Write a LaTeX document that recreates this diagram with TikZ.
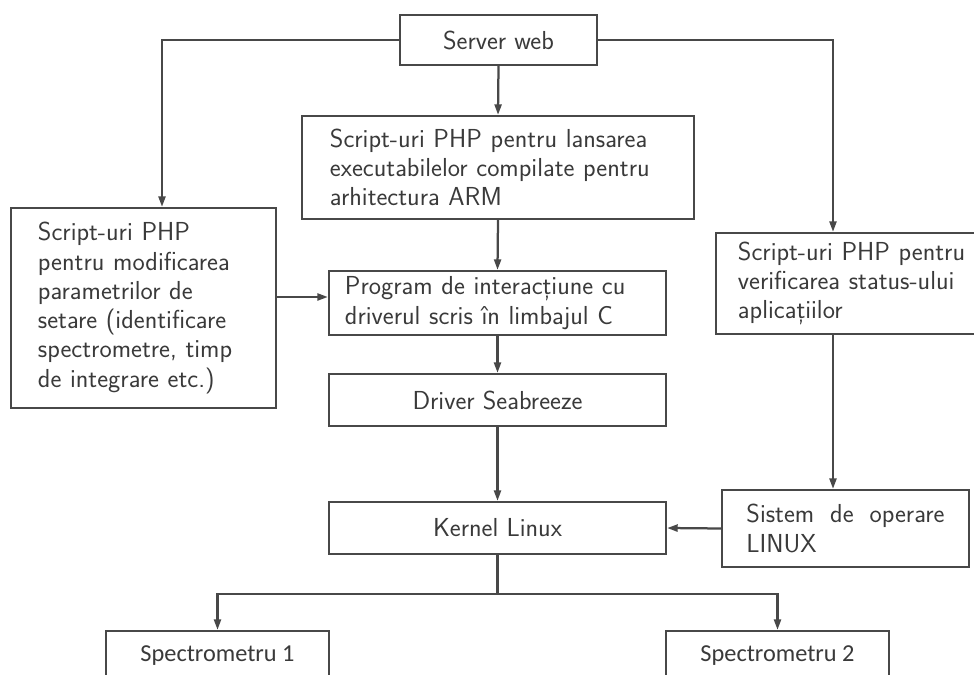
\documentclass[tikz,border=0pt]{standalone}
\usepackage{fontspec}
\newfontfamily\carlito{Carlito}
\usepackage{tikz}
\usetikzlibrary{arrows.meta,calc}
\definecolor{linegray}{HTML}{484848}
\definecolor{textgray}{HTML}{3A3A3A}

\tikzset{
  box/.style={draw=linegray, line width=1.6pt, inner xsep=0pt, inner ysep=0pt,
              text=textgray, font=\sffamily\fontsize{18.5}{20.8}\selectfont},
  arr/.style={draw=linegray, line width=1.6pt, -{Triangle[length=7.5pt,width=5pt]}},
  link/.style={draw=linegray, line width=1.6pt}
}

\begin{document}
\begin{tikzpicture}[x=0.025cm, y=-0.025cm]
    \useasboundingbox (0,0) rectangle (974,675);
    \clip (0,0) rectangle (974,675);
    \fill[white] (0,0) rectangle (974,675);

    \node[box, minimum width=4.925cm, minimum height=1.25cm] (web) at (498.5,40) {Server web};
    \node[box, minimum width=9.8cm, minimum height=2.575cm, text width=8.4cm, align=left]
         (arm) at (498,167.5) {Script-uri PHP pentru lansarea\\ executabilelor compilate pentru\\ arhitectura ARM};
    \node[box, minimum width=6.625cm, minimum height=5cm, text width=5.275cm, align=left]
         (set) at (143.5,308) {Script-uri PHP\\ pentru modificarea\\ parametrilor de\\ setare (identificare\\ spectrometre, timp\\ de integrare etc.)};
    \node[box, minimum width=8.425cm, minimum height=1.6cm, text width=7.625cm, align=left]
         (prog) at (497.5,303) {Program de interacțiune cu\\ driverul scris în limbajul C};
    \node[box, minimum width=8.425cm, minimum height=1.3cm] (drv) at (497.5,400) {Driver Seabreeze};
    \node[box, minimum width=8.425cm, minimum height=1.3cm] (kernel) at (497.5,528) {Kernel Linux};
    \node[box, minimum width=7.1cm, minimum height=2.525cm, text width=6cm, align=left]
         (stat) at (858,283.5) {Script-uri PHP pentru\\ verificarea status-ului\\ aplicațiilor};
    \node[box, minimum width=6.175cm, minimum height=1.925cm, text width=4.95cm, align=justify]
         (sys) at (845.5,528.5) {Sistem de operare LINUX};
    \node[box, font=\carlito\fontsize{17.3}{20.8}\selectfont, minimum width=5.575cm, minimum height=1.25cm]
         (sp1) at (217.5,656) {Spectrometru 1};
    \node[box, font=\carlito\fontsize{17.3}{20.8}\selectfont, minimum width=5.575cm, minimum height=1.25cm]
         (sp2) at (777.5,656) {Spectrometru 2};

    \coordinate (lcol) at (162,0);
    \coordinate (rcol) at (833,0);
    \coordinate (setlink) at ($(prog.west)+(0,-6)$);
    \coordinate (split) at ($(kernel.south)+(0,39)$);

    \draw[arr] (web.west) -| (set.north -| lcol);
    \draw[arr] (web.east) -| (stat.north -| rcol);
    \draw[arr] (web.south) -- (arm.north);
    \draw[arr] (arm.south) -- (prog.north);
    \draw[arr] (set.east |- setlink) -- (setlink);
    \draw[arr] (prog.south) -- (drv.north);
    \draw[arr] (drv.south) -- (kernel.north);
    \draw[arr] (stat.south -| rcol) -- (sys.north -| rcol);
    \draw[arr] (sys.west) -- (kernel.east);
    \draw[link] (kernel.south) -- (split);
    \draw[arr] (split) -| (sp1.north);
    \draw[arr] (split) -| (sp2.north);
\end{tikzpicture}
\end{document}
